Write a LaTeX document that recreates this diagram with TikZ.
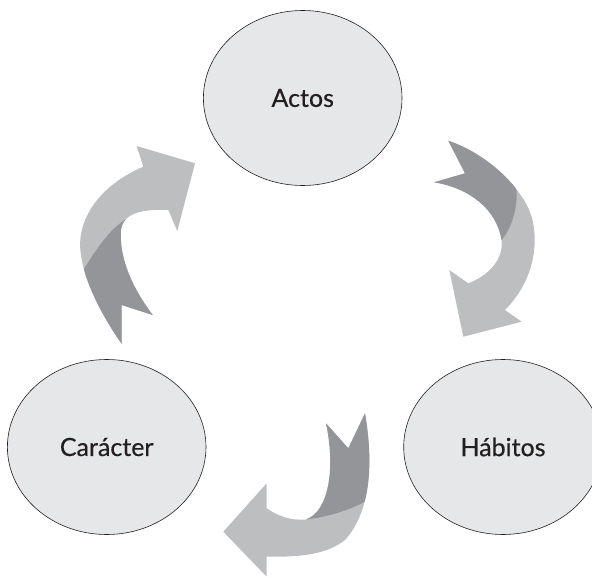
\documentclass[tikz,border=0pt]{standalone}
\usepackage{fontspec}
\setmainfont{Lato}
\newfontfamily\stagefont{Lato}[FakeBold=0.5]
\usetikzlibrary{shapes.geometric}

\definecolor{ovalfill}{RGB}{230,231,232}
\definecolor{arrowlight}{RGB}{188,190,192}
\definecolor{arrowdark}{RGB}{147,149,152}
\definecolor{ink}{RGB}{35,31,32}

% outlines of the three curved arrows (picture units, y downwards)
\newcommand{\arrowCA}{(121.7,344) -- (121.7,305) -- (152.7,315)
  .. controls (130,285) and (119,255) .. (121,230)
  .. controls (123,212) and (145,209) .. (168.3,210)
  -- (177.3,231) -- (195,163.3) -- (136.7,146) -- (143.3,166.7)
  .. controls (100,185) and (75,220) .. (81,255)
  .. controls (85,285) and (105,320) .. (121.7,344) -- cycle}
\newcommand{\arrowAH}{(448.3,140.7) -- (465,173.3) -- (434,182.3)
  .. controls (470,188) and (497,210) .. (501.5,240)
  .. controls (504,258) and (490,275) .. (468.3,283.3)
  -- (449.3,270) -- (463.3,336.7) -- (521.7,321.7) -- (505,310)
  .. controls (530,285) and (540,250) .. (532,218)
  .. controls (524,190) and (490,155) .. (448.3,140.7) -- cycle}
\newcommand{\arrowHC}{(365,413.3) -- (348.3,448.3) -- (326,423.3)
  .. controls (336,470) and (328,512) .. (306,519.5)
  .. controls (290,521) and (276,515) .. (266.7,508.3)
  -- (266.7,483.3) -- (223.3,531.7) -- (266.7,576.7) -- (266.7,556.7)
  .. controls (295,557) and (325,556) .. (345,540)
  .. controls (372,510) and (373,460) .. (365,413.3) -- cycle}

\begin{document}
\begin{tikzpicture}[x=1pt,y=-1pt]
\tikzstyle{stage}=[ellipse, minimum width=198.6pt, minimum height=175pt, inner sep=0pt, fill=ovalfill, draw=ink, line width=0.6pt, text=ink, font=\stagefont\fontsize{25}{29}\selectfont]
\tikzstyle{light}=[fill=arrowlight]
\tikzstyle{dark}=[fill=arrowdark]
\useasboundingbox (0,0) rectangle (592,578);

  % Caracter -> Actos
  \fill[light] \arrowCA;
  \begin{scope}
    \clip \arrowCA;
    \fill[dark] (76,282) .. controls (92,256) and (106,232) .. (126,219)
      -- (205,330) -- (122,375) -- (55,330) -- cycle;
  \end{scope}
  % Actos -> Habitos
  \fill[light] \arrowAH;
  \begin{scope}
    \clip \arrowAH;
    \fill[dark] (516,185) .. controls (519,205) and (512,228) .. (501.5,240)
      -- (420,240) -- (420,120) -- (545,120) -- cycle;
  \end{scope}
  % Habitos -> Caracter
  \fill[light] \arrowHC;
  \begin{scope}
    \clip \arrowHC;
    \fill[dark] (306,519.5) .. controls (328,517) and (350,510) .. (366,501)
      -- (395,501) -- (395,400) -- (306,400) -- cycle;
  \end{scope}

  \node[stage] (actos) at (302.7,98) {Actos};
  \node[stage] (habitos) at (503,447) {Hábitos};
  \node[stage] (caracter) at (106.7,447) {Carácter};
\end{tikzpicture}
\end{document}
